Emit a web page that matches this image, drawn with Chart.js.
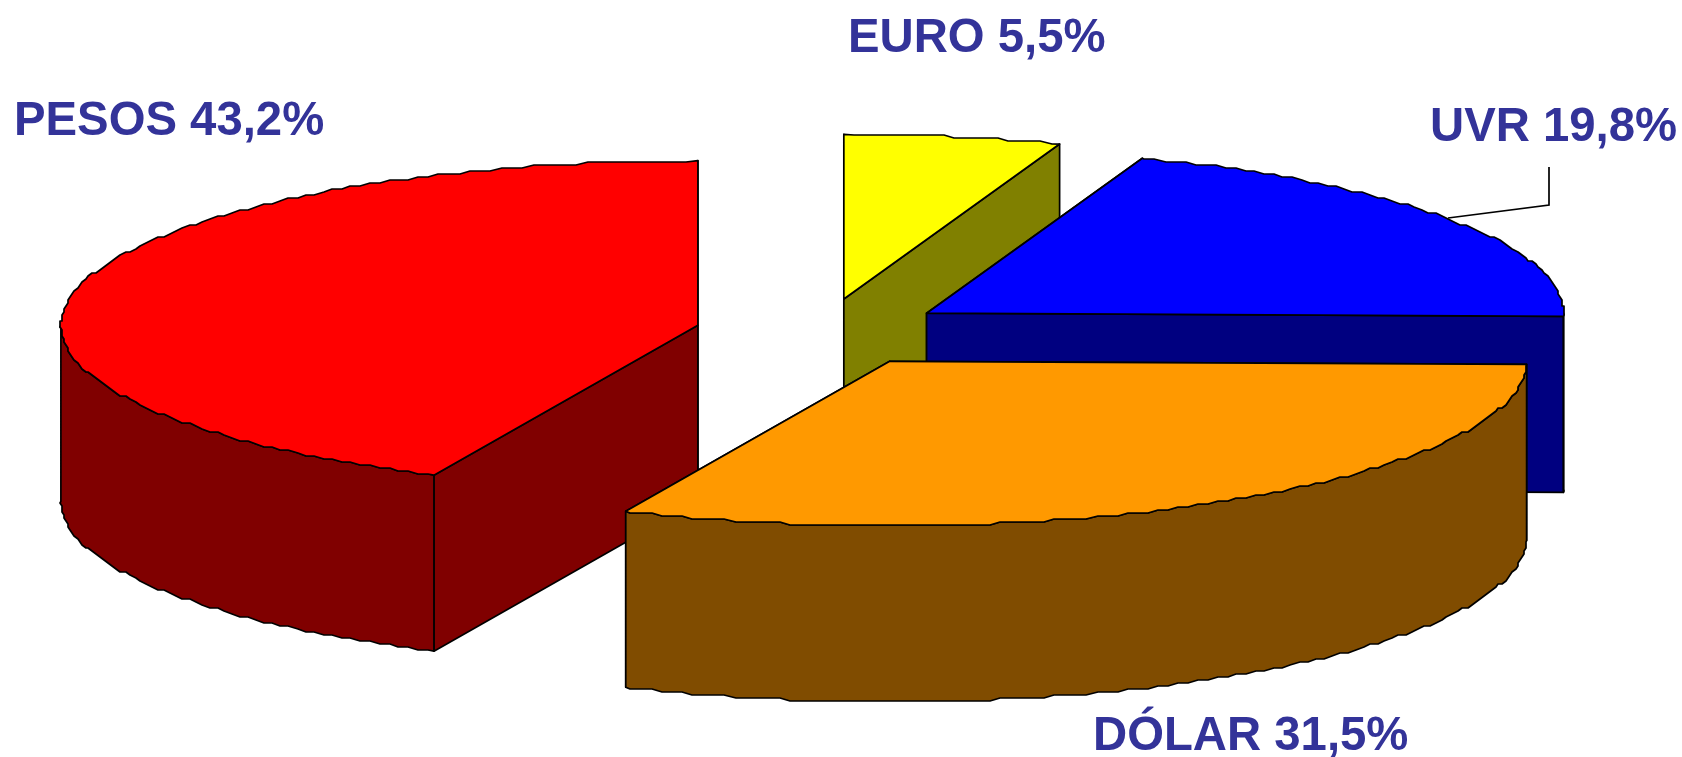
<!DOCTYPE html>
<html>
<head>
<meta charset="utf-8">
<title>Composición por moneda</title>
<script src="https://cdn.jsdelivr.net/npm/chart.js@4/dist/chart.umd.min.js"></script>
<style>
    html, body { margin: 0; padding: 0; background: #fff; overflow: hidden; }
    canvas { display: block; }
</style>
</head>
<body>
<canvas id="pieChart" width="1682" height="757"></canvas>
<script>
// data, clockwise from the top of the pie
const categories = ['EURO', 'UVR', 'DÓLAR', 'PESOS'];
const shares = [5.5, 19.8, 31.5, 43.2];

// styles
const topColors = ['#FFFF00', '#0000FF', '#FF9900', '#FF0000'];
const sideColors = ['#808000', '#000080', '#804C00', '#800000'];
const labelColor = '#333399';
const labelFont = 'bold 47.3px "Liberation Sans", Arial, sans-serif';

// where each label starts (left, baseline)
const labelSpots = [[848, 52], [1430, 141], [1093, 750], [14, 135]];
const leaderLine = [[1549, 167], [1549, 205], [1448, 218]];

// fake 3D
const SQUASH = 0.2585;
const EXPLODE_SQUASH = 0.268;
const DEPTH = 176;
const EXPLODE = 127;
const RADIUS = 637;
const STEP = Math.PI / 180;
const JAG_X = 2;   // the original outline is a coarse polyline
const JAG_Y = 3;

function apexOf(arc) {
    const mid = (arc.startAngle + arc.endAngle) / 2;
    return {
        x: arc.x + EXPLODE * Math.cos(mid),
        y: arc.y + EXPLODE * EXPLODE_SQUASH * Math.sin(mid)
    };
}

function rimPoint(arc, apex, a, rough) {
    let x = apex.x + arc.outerRadius * Math.cos(a);
    let y = apex.y + arc.outerRadius * SQUASH * Math.sin(a);
    if (rough) {
        x = Math.round(x / JAG_X) * JAG_X;
        y = Math.round(y / JAG_Y) * JAG_Y;
    }
    return {x, y};
}

// same whole degrees for the top and the wall so their edges coincide
function rimPoints(arc, apex, from, to) {
    const pts = [rimPoint(arc, apex, from, false)];
    for (let i = Math.floor(from / STEP) + 1; i * STEP < to; i++) {
        pts.push(rimPoint(arc, apex, i * STEP, true));
    }
    pts.push(rimPoint(arc, apex, to, false));
    return pts;
}

function fillPath(ctx, pts, color) {
    ctx.beginPath();
    pts.forEach((p, i) => i ? ctx.lineTo(p.x, p.y) : ctx.moveTo(p.x, p.y));
    ctx.closePath();
    ctx.fillStyle = color;
    ctx.fill();
    ctx.stroke();
}

function drawSlice(ctx, arc, index) {
    const apex = apexOf(arc);
    const rim = rimPoints(arc, apex, arc.startAngle, arc.endAngle);
    const drop = p => ({x: p.x, y: p.y + DEPTH});
    const side = sideColors[index];

    // the two cut faces, the top hides whichever faces away
    [rim[0], rim[rim.length - 1]].forEach(p => {
        fillPath(ctx, [apex, p, drop(p), drop(apex)], side);
    });

    // outer wall, only the part turned to the viewer
    const from = Math.max(arc.startAngle, 0);
    const to = Math.min(arc.endAngle, Math.PI);
    if (from < to) {
        const wall = rimPoints(arc, apex, from, to);
        fillPath(ctx, wall.concat(wall.map(drop).reverse()), side);
    }

    fillPath(ctx, [apex].concat(rim), topColors[index]);
}

const pie3d = {
    id: 'pie3d',
    beforeDatasetsDraw(chart) {
        const ctx = chart.ctx;
        const arcs = chart.getDatasetMeta(0).data;
        ctx.save();
        ctx.strokeStyle = '#000';
        ctx.lineWidth = 1.7;
        ctx.lineJoin = 'round';
        // back to front
        [0, 1, 3, 2].forEach(i => drawSlice(ctx, arcs[i], i));
        ctx.restore();
        return false;
    },
    afterDraw(chart) {
        const ctx = chart.ctx;
        ctx.save();
        ctx.strokeStyle = '#000';
        ctx.lineWidth = 1.7;
        ctx.beginPath();
        leaderLine.forEach((p, i) => i ? ctx.lineTo(p[0], p[1]) : ctx.moveTo(p[0], p[1]));
        ctx.stroke();

        ctx.font = labelFont;
        ctx.fillStyle = labelColor;
        ctx.textBaseline = 'alphabetic';
        categories.forEach((name, i) => {
            const text = name + ' ' + String(shares[i]).replace('.', ',') + '%';
            ctx.fillText(text, labelSpots[i][0], labelSpots[i][1]);
        });
        ctx.restore();
    }
};

new Chart(document.getElementById('pieChart'), {
    type: 'pie',
    data: {
        labels: categories,
        datasets: [{
            data: shares,
            backgroundColor: topColors,
            borderWidth: 0
        }]
    },
    options: {
        responsive: false,
        animation: false,
        radius: RADIUS,
        // puts the pie centre where the undisplaced slices meet
        layout: { padding: { right: 38, bottom: 92 } },
        plugins: {
            legend: { display: false },
            tooltip: { enabled: false }
        }
    },
    plugins: [pie3d]
});
</script>
</body>
</html>
